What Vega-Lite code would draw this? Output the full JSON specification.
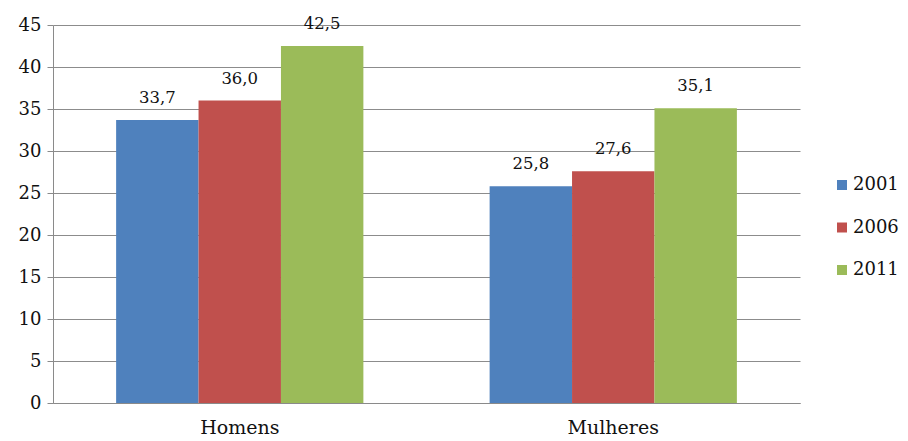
{
  "$schema": "https://vega.github.io/schema/vega-lite/v6.json",
  "width": 747,
  "height": 378,
  "autosize": {"type": "none"},
  "padding": {"left": 53, "top": 25, "right": 108, "bottom": 38},
  "background": "white",
  "config": {
    "view": {"stroke": null},
    "font": "DejaVu Serif, serif",
    "locale": {"number": {"decimal": ",", "thousands": ".", "grouping": [3], "currency": ["", ""]}}
  },
  "data": {
    "values": [
      {"sexo": "Homens", "ano": "2001", "valor": 33.7},
      {"sexo": "Homens", "ano": "2006", "valor": 36.0},
      {"sexo": "Homens", "ano": "2011", "valor": 42.5},
      {"sexo": "Mulheres", "ano": "2001", "valor": 25.8},
      {"sexo": "Mulheres", "ano": "2006", "valor": 27.6},
      {"sexo": "Mulheres", "ano": "2011", "valor": 35.1}
    ]
  },
  "encoding": {
    "x": {
      "field": "sexo", "type": "nominal", "sort": ["Homens", "Mulheres"],
      "scale": {"paddingInner": 0.338, "paddingOuter": 0.169},
      "axis": {"title": null, "labelAngle": 0, "ticks": false, "domainColor": "#8a8a8a", "labelFontSize": 19, "labelColor": "#111", "labelPadding": 15, "labelFont": "DejaVu Serif, serif"}
    },
    "xOffset": {"field": "ano", "type": "nominal", "sort": ["2001", "2006", "2011"]},
    "y": {
      "field": "valor", "type": "quantitative",
      "scale": {"domain": [0, 45], "nice": false},
      "axis": {"title": null, "values": [0,5,10,15,20,25,30,35,40,45], "grid": true, "gridColor": "#8c8c8c", "domainColor": "#8a8a8a", "tickColor": "#8a8a8a", "tickSize": 6, "labelFontSize": 18, "labelColor": "#111", "labelPadding": 6, "labelFont": "DejaVu Serif, serif"}
    }
  },
  "layer": [
    {
      "mark": {"type": "bar"},
      "encoding": {
        "color": {
          "field": "ano", "type": "nominal",
          "scale": {"domain": ["2001", "2006", "2011"], "range": ["#4F81BD", "#C0504D", "#9BBB59"]},
          "legend": {"title": null, "orient": "none", "legendX": 780, "legendY": 151, "symbolType": "square", "symbolSize": 100, "symbolStrokeWidth": 0, "labelFontSize": 18, "labelColor": "#111", "labelFont": "DejaVu Serif, serif", "rowPadding": 24.5, "labelOffset": 2}
        }
      }
    },
    {
      "mark": {"type": "text", "baseline": "alphabetic", "dy": -17, "fontSize": 16.5, "color": "#111", "font": "DejaVu Serif, serif"},
      "encoding": {
        "text": {"field": "valor", "type": "quantitative", "format": ".1f"}
      }
    }
  ]
}
